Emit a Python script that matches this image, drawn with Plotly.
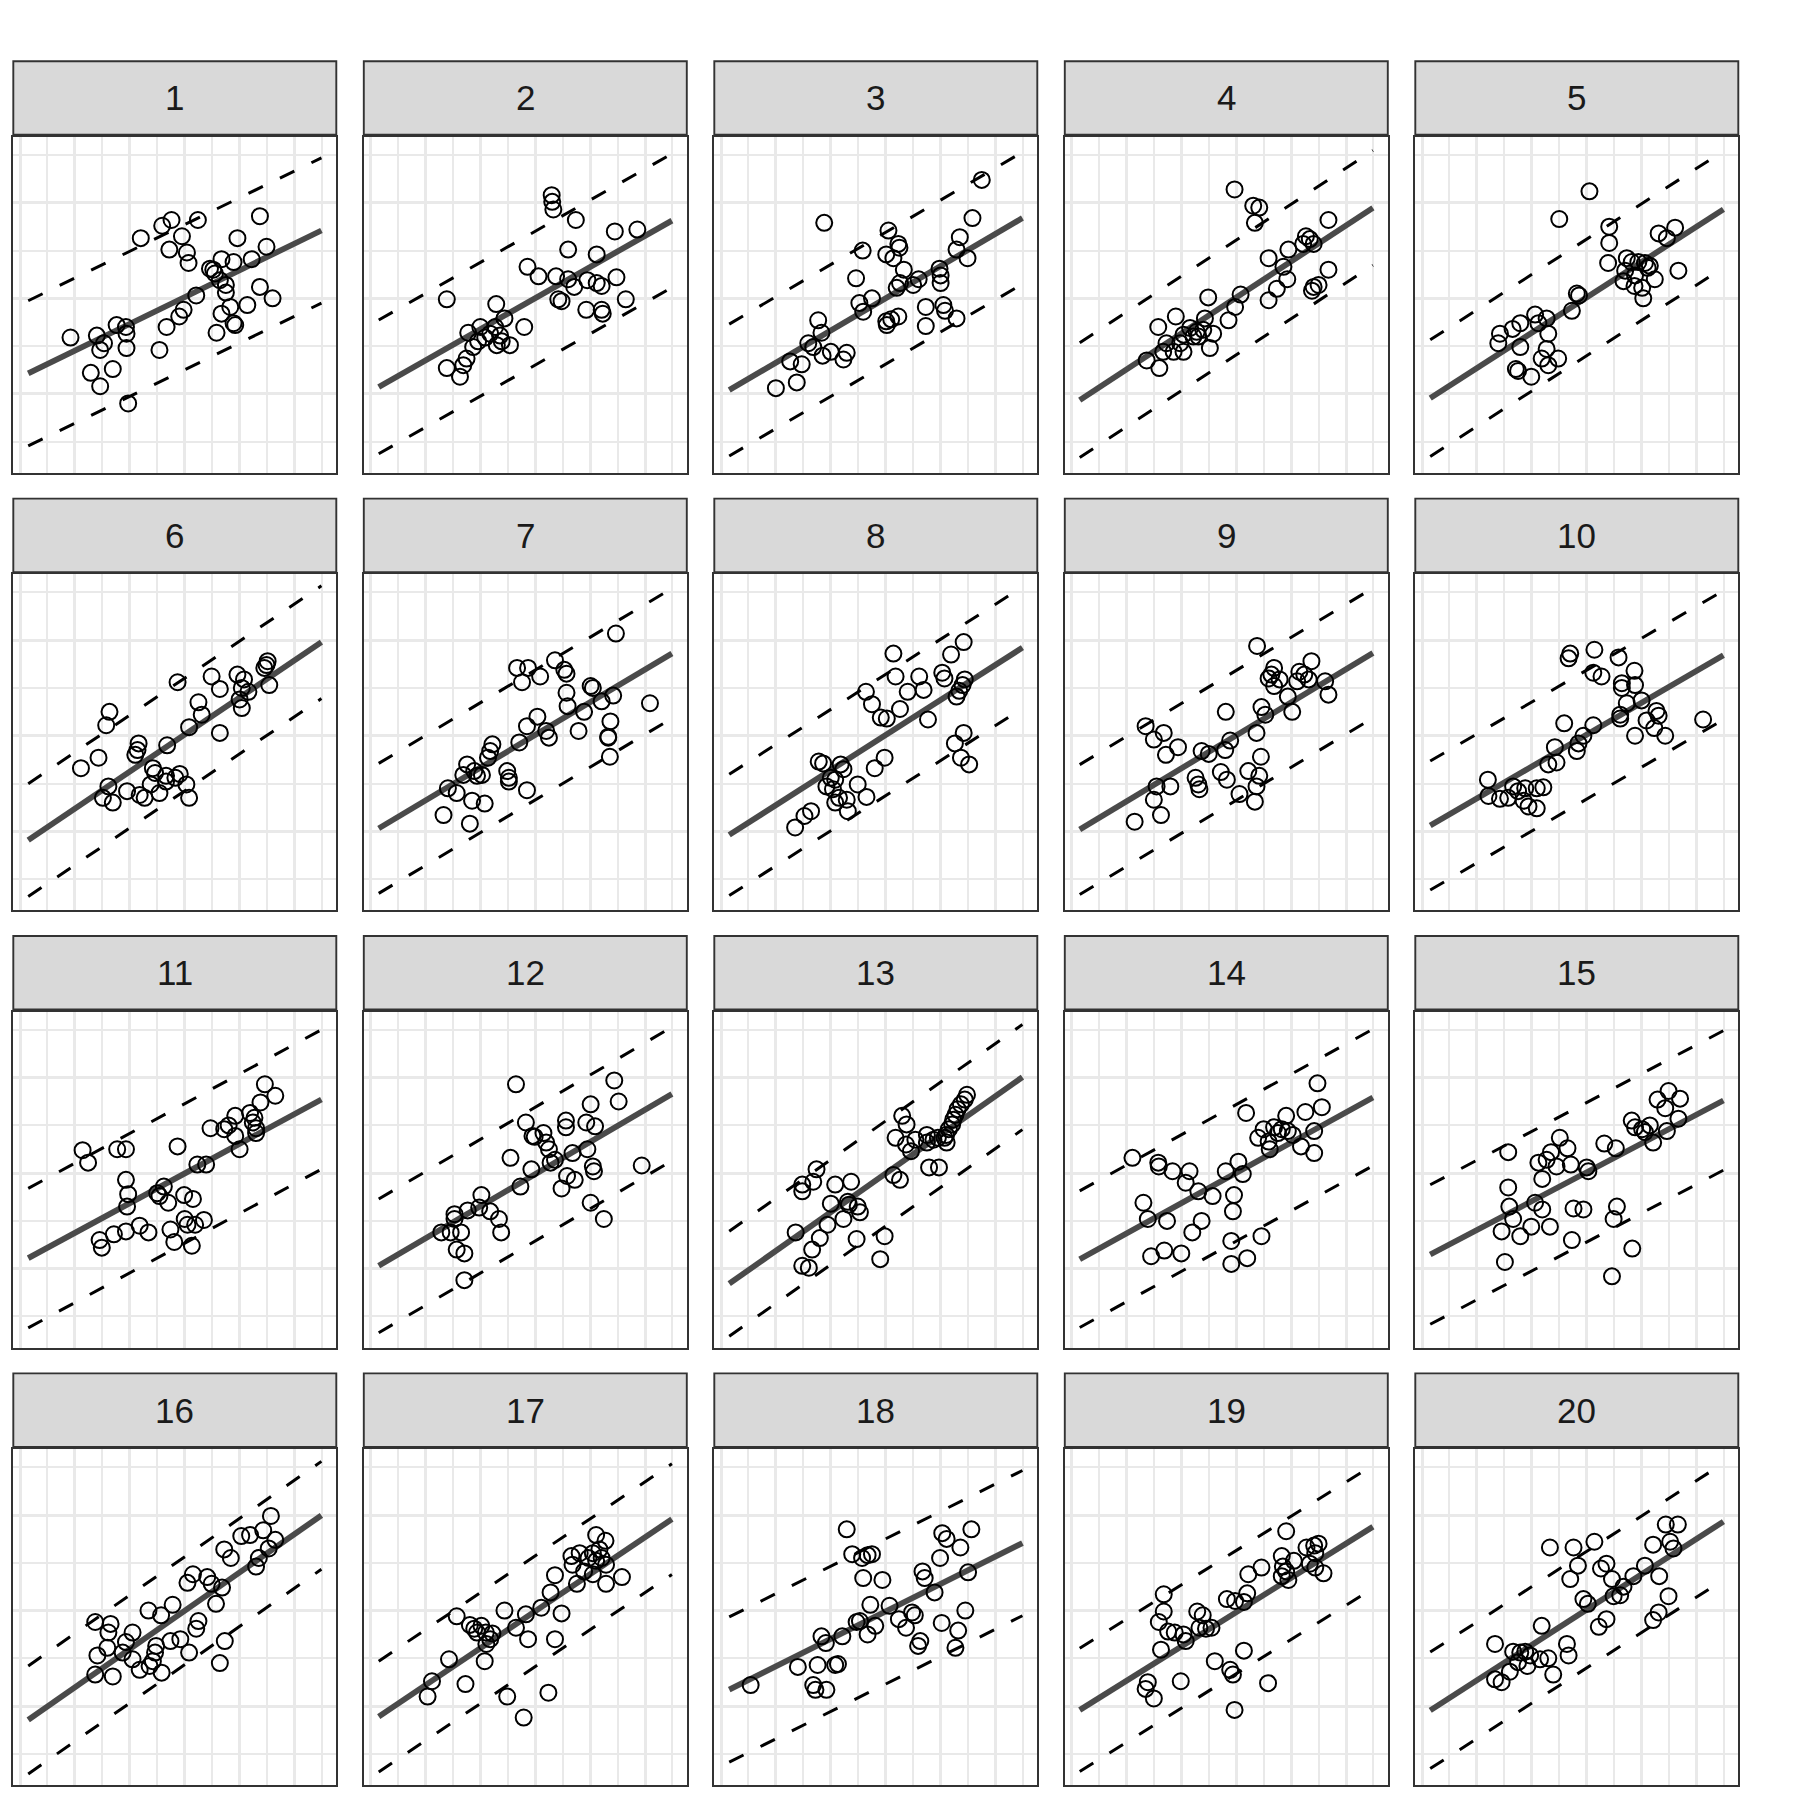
import plotly.graph_objects as go

panel_labels = ["1", "2", "3", "4", "5", "6", "7", "8", "9", "10",
                "11", "12", "13", "14", "15", "16", "17", "18", "19", "20"]

x_p1 = [0.92,1.40,1.53,1.46,1.76,1.93,1.94,1.94,1.29,1.69,1.46,1.97,2.20,2.59,2.76,3.24,2.95,2.72,3.04,3.07,2.54,2.67,2.90,2.98,3.21,3.46,3.55,3.64,3.67,3.89,3.96,4.22,4.37,4.49,3.75,3.75,3.83,3.67,3.89,3.92,3.58,4.14,4.37,4.60,3.52]
y_p1 = [0.59,0.61,0.53,0.46,0.72,0.70,0.63,0.48,0.22,0.26,0.08,-0.10,1.63,1.76,1.82,1.82,1.65,1.51,1.48,1.37,0.46,0.70,0.81,0.88,1.03,1.31,1.26,1.19,1.41,1.38,1.63,1.41,1.86,1.54,1.14,1.06,0.91,0.84,0.74,0.72,0.64,0.93,1.12,1.00,1.30]
x_p2 = [3.30,3.31,3.33,3.74,4.45,4.86,3.60,4.12,2.86,3.06,3.38,3.60,3.71,3.95,4.12,4.21,4.48,3.48,3.42,4.65,3.93,4.21,4.23,1.39,2.29,2.44,2.80,2.00,1.78,2.09,2.36,2.39,1.96,1.87,2.30,2.54,1.75,1.69,1.39,1.63,2.18,2.27]
y_p2 = [2.08,2.01,1.93,1.82,1.70,1.72,1.51,1.46,1.33,1.23,1.23,1.20,1.12,1.19,1.16,1.13,1.22,0.97,0.99,0.99,0.88,0.88,0.84,0.99,0.94,0.79,0.70,0.70,0.64,0.59,0.61,0.55,0.55,0.49,0.51,0.51,0.37,0.30,0.27,0.18,0.63,0.70]
x_p3 = [4.75,1.88,4.58,3.05,3.23,3.25,2.58,3.01,3.14,3.33,2.46,3.60,3.50,3.26,3.20,3.98,4.00,4.00,4.29,4.35,4.49,2.75,2.52,2.59,3.73,4.05,4.08,4.29,3.73,3.01,3.10,3.23,3.02,1.77,1.83,1.59,1.68,1.85,2.00,2.23,2.29,1.26,1.47,1.38,1.00]
y_p3 = [2.24,1.79,1.84,1.71,1.57,1.53,1.50,1.46,1.42,1.30,1.21,1.20,1.14,1.16,1.11,1.31,1.24,1.16,1.51,1.64,1.42,1.00,0.95,0.86,0.91,0.93,0.87,0.79,0.71,0.76,0.78,0.81,0.72,0.77,0.64,0.53,0.49,0.40,0.44,0.36,0.43,0.34,0.31,0.12,0.06]
x_p4 = [2.97,3.31,3.42,3.34,4.68,4.27,4.34,4.41,4.22,3.95,3.59,3.86,3.93,3.74,3.59,4.68,4.41,4.50,4.38,3.08,2.98,2.49,2.86,2.43,1.90,1.58,2.16,2.28,2.40,2.04,2.31,2.58,2.52,1.73,1.67,1.86,2.04,1.37,1.60,1.98,2.22]
y_p4 = [2.14,1.97,1.95,1.79,1.82,1.65,1.62,1.57,1.57,1.51,1.42,1.33,1.20,1.10,0.98,1.30,1.12,1.14,1.08,1.04,0.91,1.01,0.77,0.79,0.81,0.70,0.69,0.65,0.67,0.62,0.60,0.63,0.48,0.53,0.44,0.44,0.44,0.35,0.27,0.53,0.60]
x_p5 = [3.05,2.50,3.41,3.41,4.31,4.61,4.46,3.39,3.73,3.82,3.94,4.06,4.11,3.70,3.88,4.24,4.67,3.67,3.87,4.01,4.03,2.82,2.86,2.73,2.06,2.27,1.79,1.65,1.42,1.39,1.79,2.30,2.27,2.18,2.48,2.30,1.71,1.75,1.99,2.12,4.15]
y_p5 = [2.12,1.83,1.75,1.58,1.68,1.74,1.63,1.37,1.42,1.38,1.38,1.37,1.32,1.29,1.24,1.20,1.29,1.18,1.13,1.11,1.00,1.05,1.03,0.87,0.83,0.79,0.74,0.68,0.63,0.53,0.49,0.63,0.47,0.37,0.37,0.30,0.26,0.24,0.18,0.74,1.34]
x_p6 = [4.51,4.49,4.45,4.54,3.96,4.08,4.04,4.16,4.00,4.04,3.49,3.64,2.87,3.25,3.31,3.08,3.64,1.63,1.57,2.16,2.14,2.10,1.43,1.11,2.68,2.42,2.46,2.66,2.83,2.91,3.03,1.61,1.51,1.69,1.95,2.18,2.27,2.38,2.54,3.08,2.66]
y_p6 = [1.78,1.74,1.71,1.53,1.64,1.59,1.50,1.46,1.38,1.29,1.62,1.49,1.56,1.35,1.22,1.09,1.03,1.25,1.11,0.92,0.85,0.80,0.77,0.66,0.90,0.66,0.61,0.58,0.56,0.60,0.49,0.47,0.35,0.30,0.42,0.38,0.35,0.49,0.40,0.35,0.52]
x_p7 = [4.47,3.36,2.67,2.87,3.09,2.76,3.53,3.57,4.01,4.05,4.42,4.21,5.09,3.57,3.59,3.89,3.04,2.85,3.20,3.25,3.79,4.37,4.33,4.33,4.36,2.71,2.22,2.18,2.14,1.76,1.69,1.89,2.03,2.49,2.52,2.52,2.85,1.41,1.57,1.85,2.08,1.33,1.81,1.94]
y_p7 = [2.07,1.79,1.71,1.71,1.62,1.56,1.69,1.65,1.52,1.50,1.42,1.36,1.34,1.45,1.31,1.25,1.20,1.10,1.05,0.98,1.05,1.15,0.99,0.98,0.78,0.93,0.91,0.84,0.77,0.70,0.59,0.63,0.59,0.63,0.56,0.52,0.43,0.45,0.40,0.32,0.29,0.17,0.08,0.58]
x_p8 = [4.42,4.19,3.14,3.18,3.61,4.03,4.07,3.69,3.40,4.44,4.40,4.34,4.29,2.64,2.75,3.26,2.91,3.02,3.77,4.42,4.26,4.37,4.52,2.98,2.80,1.78,1.86,2.23,2.08,1.92,2.04,2.49,2.65,2.29,2.15,2.08,2.31,1.64,1.52,1.35,2.00,2.18]
y_p8 = [1.98,1.85,1.86,1.62,1.62,1.66,1.60,1.48,1.46,1.59,1.53,1.47,1.41,1.46,1.33,1.28,1.19,1.18,1.17,1.03,0.92,0.77,0.70,0.77,0.66,0.73,0.71,0.65,0.54,0.47,0.44,0.49,0.36,0.33,0.35,0.30,0.21,0.21,0.16,0.04,0.56,0.70]
x_p9 = [3.38,4.37,3.69,3.64,3.59,3.79,4.15,4.24,4.11,4.32,3.69,4.62,4.68,3.94,3.46,3.53,4.02,2.81,1.35,1.68,1.50,1.94,1.72,2.37,2.50,2.80,2.89,3.37,3.45,2.26,2.31,2.33,2.72,2.83,3.22,3.42,1.55,1.80,1.50,3.06,3.37,3.34,1.15,1.63]
y_p9 = [1.94,1.78,1.71,1.64,1.60,1.59,1.67,1.64,1.57,1.59,1.52,1.57,1.43,1.41,1.30,1.22,1.25,1.25,1.10,1.03,0.96,0.88,0.80,0.84,0.81,0.85,0.95,1.03,0.78,0.56,0.49,0.44,0.62,0.54,0.63,0.58,0.47,0.47,0.33,0.39,0.47,0.31,0.10,0.17]
x_p10 = [2.67,2.70,3.14,3.58,3.87,3.12,3.27,3.64,3.64,3.88,4.00,3.73,4.27,4.31,3.61,3.61,4.09,4.23,4.43,3.88,5.12,2.59,3.12,2.94,2.85,2.82,2.42,2.30,2.45,1.20,1.21,1.42,1.66,1.75,1.88,2.09,1.57,1.85,1.94,2.09,2.21]
y_p10 = [1.81,1.86,1.90,1.82,1.68,1.66,1.62,1.55,1.50,1.53,1.37,1.34,1.26,1.21,1.22,1.18,1.16,1.08,1.00,1.00,1.17,1.13,1.11,1.00,0.92,0.84,0.88,0.70,0.72,0.54,0.37,0.34,0.47,0.42,0.45,0.45,0.35,0.32,0.26,0.24,0.46]
x_p11 = [4.46,4.65,4.38,4.19,4.27,4.24,4.30,4.30,3.92,3.80,3.72,3.92,4.00,3.47,3.23,3.39,2.87,1.14,1.24,1.77,1.93,1.93,1.97,1.95,2.50,2.54,2.62,2.70,2.99,3.15,1.45,1.49,1.71,1.93,2.18,2.34,2.74,2.81,3.00,3.05,3.13,3.35,3.19]
y_p11 = [1.93,1.81,1.74,1.63,1.58,1.53,1.47,1.42,1.60,1.50,1.46,1.39,1.25,1.47,1.09,1.09,1.28,1.24,1.11,1.25,1.25,0.93,0.78,0.65,0.79,0.76,0.86,0.69,0.77,0.73,0.30,0.22,0.36,0.39,0.45,0.38,0.41,0.28,0.52,0.46,0.24,0.51,0.46]
x_p12 = [2.65,4.44,4.52,4.01,2.83,3.56,3.56,3.93,4.09,2.95,2.99,3.15,3.20,3.25,2.55,3.68,3.95,3.36,3.28,2.93,4.05,4.07,3.58,3.72,3.48,2.73,4.94,4.01,4.25,2.02,1.98,1.77,1.53,2.18,2.34,2.38,1.29,1.46,1.65,1.57,1.71,1.71,1.53]
y_p12 = [1.93,1.97,1.75,1.72,1.53,1.55,1.48,1.53,1.49,1.39,1.38,1.42,1.32,1.25,1.16,1.21,1.25,1.14,1.11,1.04,1.07,1.02,0.97,0.93,0.84,0.86,1.08,0.69,0.52,0.77,0.64,0.61,0.57,0.60,0.52,0.38,0.38,0.38,0.38,0.20,0.16,-0.12,0.52]
x_p13 = [4.48,4.44,4.37,4.31,4.27,4.23,4.21,4.15,4.10,4.11,4.07,3.30,3.38,3.18,3.37,3.46,3.54,3.75,3.87,3.75,3.95,3.79,3.97,3.14,3.26,1.74,1.48,1.48,1.68,2.08,2.37,2.31,2.33,2.49,2.00,2.23,1.94,1.36,1.80,1.66,1.48,1.60,2.47,2.98,2.90,2.53]
y_p13 = [1.82,1.77,1.72,1.67,1.61,1.56,1.51,1.46,1.40,1.32,1.37,1.60,1.51,1.37,1.30,1.23,1.35,1.40,1.35,1.32,1.37,1.06,1.06,0.98,0.93,1.04,0.88,0.81,0.91,0.88,0.91,0.70,0.67,0.65,0.68,0.52,0.46,0.38,0.32,0.20,0.03,0.01,0.31,0.34,0.10,0.59]
x_p14 = [4.48,4.56,4.26,3.91,3.18,3.50,3.69,3.83,3.94,4.03,3.40,3.59,3.61,4.42,4.18,4.42,3.76,1.11,1.58,1.59,1.84,2.15,2.08,2.31,2.57,2.81,3.04,3.12,2.96,2.94,1.31,1.39,1.74,2.37,2.20,2.91,3.46,1.45,1.69,2.00,2.91,3.20]
y_p14 = [1.94,1.69,1.64,1.60,1.63,1.46,1.48,1.46,1.44,1.40,1.37,1.33,1.25,1.44,1.28,1.21,1.42,1.16,1.11,1.07,1.02,1.02,0.90,0.81,0.76,1.02,1.12,0.99,0.77,0.60,0.69,0.52,0.50,0.50,0.38,0.29,0.34,0.13,0.19,0.16,0.05,0.11]
x_p15 = [4.49,4.70,4.29,4.43,4.67,3.82,3.88,4.01,4.15,4.06,4.21,4.46,3.32,3.53,2.51,2.65,2.35,2.27,2.12,2.19,2.45,2.71,3.00,3.03,1.57,1.57,2.06,2.19,1.59,1.66,1.45,1.79,1.99,2.33,2.76,2.94,3.55,3.49,2.73,1.51,3.83,3.46]
y_p15 = [1.86,1.78,1.77,1.68,1.57,1.55,1.48,1.46,1.50,1.43,1.32,1.44,1.31,1.26,1.37,1.26,1.22,1.14,1.11,0.94,1.07,1.09,1.06,1.02,1.22,0.85,0.69,0.62,0.65,0.52,0.39,0.34,0.44,0.44,0.63,0.62,0.65,0.52,0.30,0.07,0.21,-0.08]
x_p16 = [4.57,4.43,4.19,4.03,4.65,3.72,3.84,4.53,4.35,4.30,3.15,3.05,3.41,3.49,3.68,3.57,2.78,2.34,2.57,3.25,3.21,1.37,1.65,1.61,2.05,1.93,1.59,1.41,1.87,2.05,2.18,2.36,2.48,2.46,2.42,2.58,2.74,2.92,3.08,1.37,1.69,3.73,3.64]
y_p16 = [1.99,1.84,1.79,1.78,1.74,1.64,1.55,1.65,1.55,1.46,1.38,1.29,1.35,1.28,1.24,1.07,1.06,1.00,0.95,0.89,0.81,0.88,0.86,0.77,0.77,0.67,0.61,0.53,0.56,0.49,0.38,0.42,0.63,0.56,0.47,0.35,0.68,0.70,0.56,0.33,0.31,0.68,0.45]
x_p17 = [4.11,4.28,3.66,3.81,3.97,4.05,4.17,4.21,4.11,4.29,3.68,3.89,4.05,4.58,4.29,3.76,3.36,3.28,3.11,3.48,2.83,2.44,1.57,1.81,1.89,2.02,2.10,2.22,2.18,2.11,2.65,2.87,3.36,2.08,1.43,1.12,1.04,1.73,2.49,3.24,2.79,1.94]
y_p17 = [1.79,1.73,1.57,1.60,1.55,1.60,1.64,1.55,1.52,1.48,1.48,1.41,1.38,1.35,1.28,1.28,1.37,1.19,1.03,0.97,0.96,1.00,0.94,0.85,0.81,0.84,0.77,0.76,0.70,0.65,0.82,0.70,0.70,0.47,0.49,0.26,0.10,0.23,0.10,0.14,-0.12,0.77]
x_p18 = [2.29,4.03,4.11,4.56,4.36,3.99,2.39,2.57,2.67,2.75,2.59,2.94,3.67,3.71,4.50,3.89,2.72,3.07,2.53,2.81,2.67,3.24,3.37,3.48,3.53,4.02,4.45,4.32,4.27,3.63,3.59,1.83,1.91,2.21,1.40,1.76,2.08,2.13,1.68,1.72,1.92,0.54,2.47]
y_p18 = [1.85,1.81,1.75,1.85,1.66,1.55,1.59,1.55,1.58,1.59,1.34,1.32,1.41,1.34,1.40,1.19,1.06,1.05,0.89,0.84,0.75,0.91,0.82,0.98,0.95,0.87,1.00,0.79,0.61,0.68,0.63,0.73,0.66,0.73,0.41,0.43,0.43,0.44,0.22,0.17,0.17,0.22,0.88]
x_p19 = [3.91,4.28,4.42,4.50,4.44,4.34,4.44,4.59,3.83,4.05,3.85,3.91,3.83,3.95,3.46,3.22,3.20,2.83,2.98,3.14,1.68,1.68,1.59,1.76,1.88,2.04,2.08,2.29,2.39,2.33,2.45,2.55,1.63,2.61,3.14,2.89,2.94,1.39,1.35,1.50,1.99,3.58,2.97]
y_p19 = [1.83,1.66,1.68,1.70,1.60,1.49,1.45,1.39,1.57,1.52,1.46,1.41,1.36,1.32,1.45,1.38,1.18,1.12,1.10,1.09,1.17,0.99,0.88,0.78,0.77,0.75,0.68,0.99,0.95,0.82,0.81,0.82,0.59,0.47,0.58,0.38,0.33,0.25,0.18,0.08,0.26,0.24,-0.04]
x_p20 = [4.44,4.66,4.21,4.52,4.58,2.33,2.76,3.14,2.84,2.70,3.26,3.36,3.46,3.85,4.06,4.32,3.67,3.61,3.49,4.49,2.94,3.02,4.31,4.21,3.36,3.22,2.18,1.33,1.66,1.79,1.88,1.97,2.15,2.30,2.64,2.67,1.92,1.60,1.33,1.45,2.39,1.75]
y_p20 = [1.90,1.90,1.69,1.72,1.65,1.66,1.66,1.72,1.47,1.33,1.44,1.49,1.33,1.36,1.47,1.36,1.25,1.16,1.15,1.15,1.12,1.07,0.98,0.90,0.91,0.83,0.84,0.65,0.57,0.56,0.57,0.53,0.49,0.50,0.65,0.53,0.42,0.36,0.28,0.25,0.33,0.46]

# fitted line and prediction band per panel
fit_intercept = [0.173, 0.024, -0.010, -0.122, -0.100, -0.151, -0.021, -0.093, -0.034, 0.010,
                 0.064, -0.021, -0.218, 0.052, 0.103, -0.205, -0.168, 0.130, -0.094, -0.100]
fit_slope = [0.280, 0.326, 0.337, 0.377, 0.370, 0.388, 0.343, 0.367, 0.346, 0.334,
             0.311, 0.337, 0.405, 0.317, 0.302, 0.401, 0.387, 0.287, 0.359, 0.370]
band_halfwidth = [0.76, 0.70, 0.69, 0.60, 0.61, 0.59, 0.68, 0.635, 0.68, 0.675,
                  0.73, 0.70, 0.55, 0.715, 0.73, 0.565, 0.58, 0.76, 0.645, 0.61]
line_x = [0.15, 5.49]

xs = [x_p1, x_p2, x_p3, x_p4, x_p5, x_p6, x_p7, x_p8, x_p9, x_p10,
      x_p11, x_p12, x_p13, x_p14, x_p15, x_p16, x_p17, x_p18, x_p19, x_p20]
ys = [y_p1, y_p2, y_p3, y_p4, y_p5, y_p6, y_p7, y_p8, y_p9, y_p10,
      y_p11, y_p12, y_p13, y_p14, y_p15, y_p16, y_p17, y_p18, y_p19, y_p20]

W = H = 1800
col_left = [13.3, 363.8, 714.3, 1064.8, 1415.3]
plot_top = [136.7, 574.1, 1011.5, 1448.9]
PW, PH = 323.0, 336.0
STRIP_H = 73.5
GRID = "#e9e9e9"

fig = go.Figure()
layout = dict(width=W, height=H, margin=dict(l=0, r=0, t=0, b=0),
              paper_bgcolor="white", plot_bgcolor="white", showlegend=False)
shapes = []
annotations = []

for i in range(20):
    r, c = divmod(i, 5)
    n = "" if i == 0 else str(i + 1)
    left = col_left[c]
    top = plot_top[r]
    axis_common = dict(showticklabels=False, ticks="", zeroline=False,
                       showgrid=True, gridcolor=GRID, gridwidth=2.9,
                       tickmode="linear", tick0=0, dtick=1,
                       minor=dict(tickmode="linear", tick0=0, dtick=0.5, showgrid=True,
                                  gridcolor=GRID, gridwidth=1.6, ticks=""),
                       showline=True, mirror=True, linecolor="#333333", linewidth=1.9,
                       fixedrange=True)
    layout["xaxis" + n] = dict(axis_common, domain=[left / W, (left + PW) / W],
                               range=[-0.122, 5.761], anchor="y" + n)
    layout["yaxis" + n] = dict(axis_common, domain=[1 - (top + PH) / H, 1 - top / H],
                               range=[-0.825, 2.692], anchor="x" + n)
    # strip
    s_bot = top - 2.0
    s_top = s_bot - STRIP_H
    shapes.append(dict(type="rect", xref="paper", yref="paper",
                       x0=left / W, x1=(left + PW) / W,
                       y0=1 - s_bot / H, y1=1 - s_top / H,
                       fillcolor="#d9d9d9", line=dict(color="#333333", width=1.9)))
    annotations.append(dict(text=panel_labels[i], xref="paper", yref="paper",
                            x=(left + PW / 2) / W, y=1 - (s_top + STRIP_H / 2) / H,
                            xanchor="center", yanchor="middle", showarrow=False,
                            font=dict(size=35, color="#1a1a1a",
                                      family="Liberation Sans, Arial, sans-serif")))

    a, b, w = fit_intercept[i], fit_slope[i], band_halfwidth[i]
    fit_y = [a + b * xv for xv in line_x]
    for off in (w, -w):
        fig.add_trace(go.Scatter(x=line_x, y=[v + off for v in fit_y], mode="lines",
                                 line=dict(color="black", width=3.0, dash="16px,19px"),
                                 xaxis="x" + n, yaxis="y" + n, hoverinfo="skip"))
    fig.add_trace(go.Scatter(x=line_x, y=fit_y, mode="lines",
                             line=dict(color="#4a4a4a", width=5.8),
                             xaxis="x" + n, yaxis="y" + n, hoverinfo="skip"))
    fig.add_trace(go.Scatter(x=xs[i], y=ys[i], mode="markers",
                             marker=dict(symbol="circle-open", size=16, color="black",
                                         line=dict(width=2.0, color="black")),
                             xaxis="x" + n, yaxis="y" + n))

layout["shapes"] = shapes
layout["annotations"] = annotations
fig.update_layout(**layout)
fig.write_html("out.html")
